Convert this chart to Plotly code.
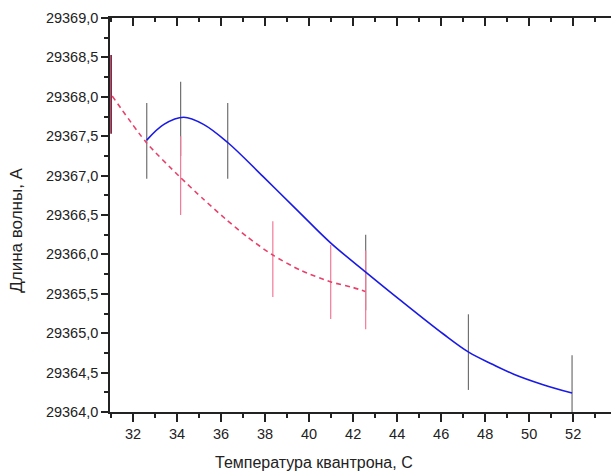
import plotly.graph_objects as go

# Fitted curve (blue, solid)
fit_x = [32.62, 33.4, 34.3, 35.2, 36.3, 37.9, 39.5, 41.0, 42.6, 44.1,
         46.1, 47.25, 48.3, 49.3, 50.6, 51.95]
fit_y = [29367.45, 29367.65, 29367.74, 29367.65, 29367.42, 29366.99,
         29366.55, 29366.14, 29365.77, 29365.43, 29364.99, 29364.76,
         29364.61, 29364.48, 29364.35, 29364.24]

# Red dashed curve
red_x = [31.05, 32.6, 34.1, 35.2, 36.2, 37.2, 38.3, 39.6, 41.0, 42.0, 42.55]
red_y = [29368.01, 29367.42, 29366.99, 29366.70, 29366.45, 29366.22, 29366.00,
         29365.80, 29365.65, 29365.58, 29365.53]

# Measurements with error bars (gray)
gray_x = [32.62, 34.16, 36.3, 42.57, 47.24, 51.95]
gray_y = [29367.44, 29367.72, 29367.44, 29365.77, 29364.76, 29364.24]
gray_err = [0.48, 0.47, 0.48, 0.48, 0.48, 0.48]

# Measurements with error bars (pink)
pink_x = [34.16, 38.35, 40.98, 42.57]
pink_y = [29367.0, 29365.94, 29365.65, 29365.55]
pink_err = [0.5, 0.48, 0.47, 0.5]

# First pink point on the axis (dark red)
first_x = [31.0]
first_y = [29368.03]
first_err = [0.5]

x_ticks = [32, 34, 36, 38, 40, 42, 44, 46, 48, 50, 52]
y_ticks = [29364.0, 29364.5, 29365.0, 29365.5, 29366.0, 29366.5, 29367.0,
           29367.5, 29368.0, 29368.5, 29369.0]
y_tick_text = [f"{v:.1f}".replace(".", ",") for v in y_ticks]

X_RANGE = [30.95, 53.72]
Y_RANGE = [29364.0, 29369.0]

FONT = "Liberation Sans, Arial, sans-serif"

fig = go.Figure()

def err_trace(x, y, e, color, width=1.2):
    return go.Scatter(
        x=x, y=y, mode="markers",
        marker=dict(size=1, color="rgba(0,0,0,0)"),
        error_y=dict(type="data", array=e, visible=True, color=color,
                     thickness=width, width=0),
        showlegend=False, hoverinfo="skip")

fig.add_trace(err_trace(gray_x, gray_y, gray_err, "#707070"))
fig.add_trace(err_trace(pink_x, pink_y, pink_err, "#f27a98"))
fig.add_trace(err_trace(first_x, first_y, first_err, "#7a1030", 1.6))

fig.add_trace(go.Scatter(
    x=red_x, y=red_y, mode="lines",
    line=dict(color="#e8406a", width=1.6, dash="5px,4px", shape="spline",
              smoothing=0.7),
    showlegend=False))

fig.add_trace(go.Scatter(
    x=fit_x, y=fit_y, mode="lines",
    line=dict(color="#1a1ae6", width=1.6, shape="spline", smoothing=1.0),
    showlegend=False))

# invisible trace for the top axis
fig.add_trace(go.Scatter(x=X_RANGE, y=Y_RANGE, xaxis="x2", mode="markers",
                         marker=dict(size=1, color="rgba(0,0,0,0)"),
                         showlegend=False, hoverinfo="skip"))

axis_col = "#222222"
fig.update_layout(
    width=611, height=474,
    margin=dict(l=110, r=0, t=18, b=62),
    paper_bgcolor="white", plot_bgcolor="white",
    font=dict(family=FONT, size=14, color="#222222"),
    xaxis=dict(range=X_RANGE, tickvals=x_ticks, ticks="outside", ticklen=8,
               tickwidth=1.5, tickcolor=axis_col, showline=True,
               linecolor=axis_col, linewidth=1.5, showgrid=False,
               zeroline=False, tickfont=dict(size=14.5),
               minor=dict(dtick=1, tick0=31, ticks="outside", ticklen=4,
                          tickwidth=1.5, tickcolor=axis_col, showgrid=False)),
    xaxis2=dict(range=X_RANGE, overlaying="x", side="top", anchor="y",
                tickvals=x_ticks, ticks="inside", ticklen=8, tickwidth=1.5,
                tickcolor=axis_col, showline=True, linecolor=axis_col,
                linewidth=1.5, showgrid=False, zeroline=False,
                showticklabels=False,
                minor=dict(dtick=1, tick0=31, ticks="inside", ticklen=4,
                           tickwidth=1.5, tickcolor=axis_col, showgrid=False)),
    yaxis=dict(range=Y_RANGE, tickvals=y_ticks, ticktext=y_tick_text,
               ticks="outside", ticklen=7, tickwidth=1.5, tickcolor=axis_col,
               showline=True, linecolor=axis_col, linewidth=1.5,
               showgrid=False, zeroline=False, tickfont=dict(size=14.5),
               minor=dict(dtick=0.25, tick0=29364, ticks="outside", ticklen=4,
                          tickwidth=1.5, tickcolor=axis_col, showgrid=False)),
    annotations=[
        dict(text="Температура квантрона, С", xref="paper", yref="paper",
             x=0.407, y=-0.129, xanchor="center", yanchor="middle",
             showarrow=False, font=dict(size=16, family=FONT)),
        dict(text="Длина волны, А", xref="paper", yref="paper",
             x=-0.186, y=0.462, xanchor="center", yanchor="middle",
             textangle=-90, showarrow=False, font=dict(size=17, family=FONT)),
    ],
)

fig.write_html("out.html",
               config={"displayModeBar": False},
               post_script="document.body.style.margin='0';"
                           "document.body.style.overflow='hidden';")
